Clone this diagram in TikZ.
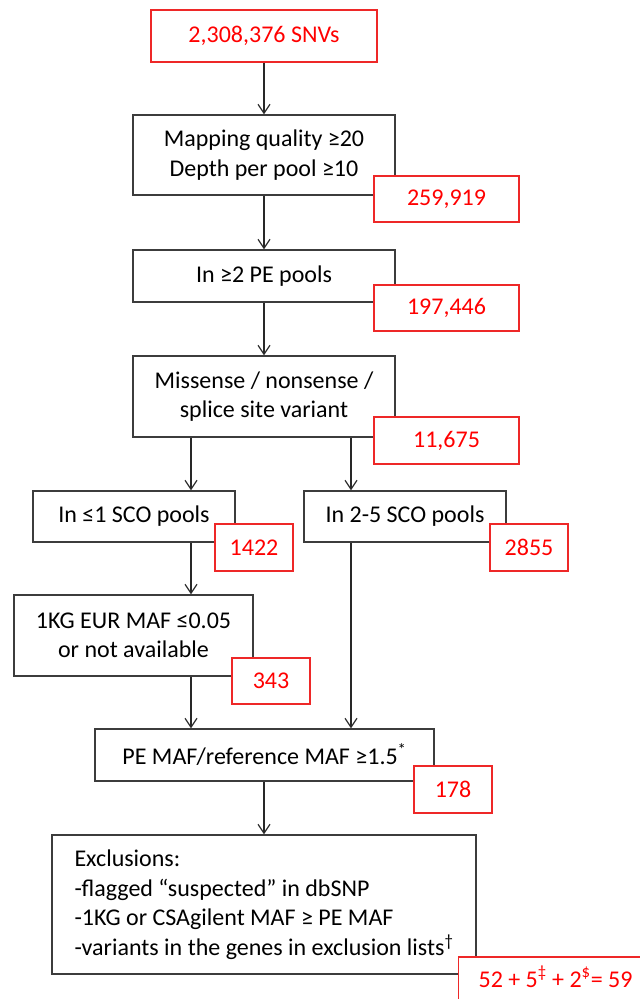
\documentclass[tikz,border=0pt]{standalone}
\usepackage{fontspec}
\setmainfont{Carlito}
\usetikzlibrary{arrows.meta}
\definecolor{boxline}{RGB}{60,60,60}
\definecolor{arrline}{RGB}{40,40,40}
\definecolor{redline}{RGB}{238,40,40}
\definecolor{redtext}{RGB}{255,0,0}
\tikzset{
  blackbox/.style={draw=boxline, line width=1.3pt, fill=white, align=center, inner sep=0pt,
    font=\fontsize{24}{29.5}\selectfont, text=black},
  redbox/.style={draw=redline, line width=1.2pt, fill=white, align=center, inner sep=0pt,
    font=\fontsize{24}{29.5}\selectfont, text=redtext},
  arr/.style={draw=arrline, line width=1.3pt, -{Straight Barb[length=9pt,width=12pt,line width=1.2pt]}},
}
\begin{document}
\begin{tikzpicture}[x=1pt,y=-1pt]
\useasboundingbox[fill=white] (0,0) rectangle (640,999);
\clip (0,0) rectangle (640,999);
% main boxes
\node[redbox, minimum width=226pt, minimum height=52pt] (top) at (264,36) {2,308,376 SNVs};
\node[blackbox, minimum width=262pt, minimum height=80pt] (b2) at (264,155) {Mapping quality ≥20\\Depth per pool ≥10};
\node[blackbox, minimum width=262pt, minimum height=52pt] (b3) at (264,276) {In ≥2 PE pools};
\node[blackbox, minimum width=262pt, minimum height=81pt] (b4) at (264,396.5) {Missense / nonsense /\\splice site variant};
\node[blackbox, minimum width=202pt, minimum height=51pt] (b5L) at (134,516.5) {In ≤1 SCO pools};
\node[blackbox, minimum width=202pt, minimum height=51pt] (b5R) at (405,516.5) {In 2-5 SCO pools};
\node[blackbox, minimum width=239pt, minimum height=81pt] (b6) at (133.5,635.5) {1KG EUR MAF ≤0.05\\or not available};
\node[blackbox, minimum width=339pt, minimum height=52pt] (b7) at (264.5,755) {PE MAF/reference MAF ≥1.5\textsuperscript{*}};
\node[blackbox, minimum width=424pt, minimum height=139pt, align=left] (b8) at (264,904.5)
  {Exclusions:\\-flagged “suspected” in dbSNP\\-1KG or CSAgilent MAF ≥ PE MAF\\-variants in the genes in exclusion lists\textsuperscript{†}};
% count boxes
\node[redbox, minimum width=145pt, minimum height=46pt] (r2) at (446.5,199) {259,919};
\node[redbox, minimum width=145pt, minimum height=46pt] (r3) at (446.5,308) {197,446};
\node[redbox, minimum width=145pt, minimum height=47pt] (r4) at (446.5,440.5) {11,675};
\node[redbox, minimum width=78pt, minimum height=47pt] (r5L) at (254,547.5) {1422};
\node[redbox, minimum width=78pt, minimum height=47pt] (r5R) at (529,547.5) {2855};
\node[redbox, minimum width=78pt, minimum height=46pt] (r6) at (271,681) {343};
\node[redbox, minimum width=78pt, minimum height=47pt] (r7) at (453,789.5) {178};
\node[redbox, anchor=base west, inner xsep=20pt, inner ysep=0pt, text height=30pt, text depth=24pt, align=left] (r8) at (458,987)
  {52 + 5\textsuperscript{‡} + 2\textsuperscript{\$}= 59};
% connectors
\coordinate (xL) at (191,0);
\coordinate (xR) at (351,0);
\draw[arr] (top) -- (b2);
\draw[arr] (b2) -- (b3);
\draw[arr] (b3) -- (b4);
\draw[arr] (b4.south -| xL) -- (b5L.north -| xL);
\draw[arr] (b4.south -| xR) -- (b5R.north -| xR);
\draw[arr] (b5L.south -| xL) -- (b6.north -| xL);
\draw[arr] (b6.south -| xL) -- (b7.north -| xL);
\draw[arr] (b5R.south -| xR) -- (b7.north -| xR);
\draw[arr] (b7.south -| b8.north) -- (b8.north);
\end{tikzpicture}
\end{document}
